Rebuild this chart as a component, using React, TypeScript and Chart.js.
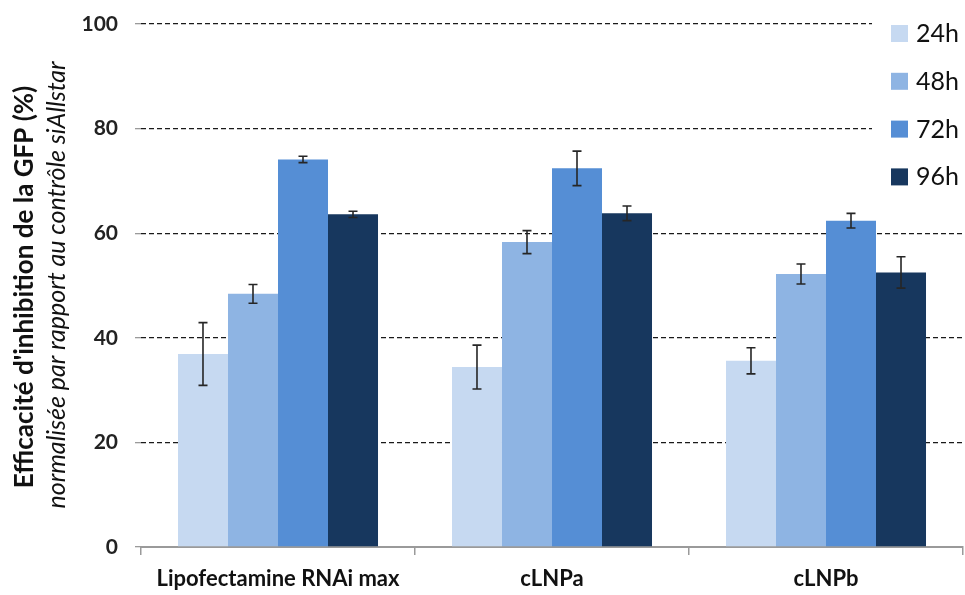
import React, { useEffect, useRef } from 'react';
import { Chart, registerables } from 'chart.js';
Chart.register(...registerables);

const categories = ['Lipofectamine RNAi max', 'cLNPa', 'cLNPb'];
const seriesLabels = ['24h', '48h', '72h', '96h'];
const values24 = [36.9, 34.4, 35.6];
const values48 = [48.4, 58.3, 52.2];
const values72 = [74.1, 72.4, 62.4];
const values96 = [63.6, 63.8, 52.5];
const err24 = [6.0, 4.2, 2.5];
const err48 = [1.8, 2.2, 1.9];
const err72 = [0.6, 3.3, 1.4];
const err96 = [0.6, 1.4, 3.0];
const yTicks = [0, 20, 40, 60, 80, 100];

const colors = ['#C6D9F1', '#8EB4E3', '#558ED5', '#17375E'];
const allValues = [values24, values48, values72, values96];
const allErrors = [err24, err48, err72, err96];

const FONT = 'Lato, "Open Sans", sans-serif';

export default function App() {
  const ref = useRef<HTMLCanvasElement>(null);

  useEffect(() => {
    if (!ref.current) return;

    const errorBars = {
      id: 'errorBars',
      afterDatasetsDraw(chart: any) {
        const ctx = chart.ctx;
        const y = chart.scales.y;
        ctx.save();
        ctx.strokeStyle = '#262626';
        ctx.lineWidth = 1.6;
        chart.data.datasets.forEach((ds: any, di: number) => {
          const meta = chart.getDatasetMeta(di);
          meta.data.forEach((bar: any, i: number) => {
            const v = ds.data[i];
            const e = allErrors[di][i];
            const x = bar.x;
            const yt = y.getPixelForValue(v + e);
            const yb = y.getPixelForValue(v - e);
            ctx.beginPath();
            ctx.moveTo(x, yt);
            ctx.lineTo(x, yb);
            ctx.moveTo(x - 4.5, yt);
            ctx.lineTo(x + 4.5, yt);
            ctx.moveTo(x - 4.5, yb);
            ctx.lineTo(x + 4.5, yb);
            ctx.stroke();
          });
        });
        ctx.restore();
      },
    };

    const legendBox = {
      id: 'legendBox',
      afterDatasetsDraw(chart: any) {
        const ctx = chart.ctx;
        ctx.save();
        ctx.fillStyle = '#ffffff';
        ctx.fillRect(872, 0, 93, 198);
        chart.data.datasets.forEach((ds: any, i: number) => {
          const cy = 33 + i * 47.8;
          ctx.fillStyle = ds.backgroundColor;
          ctx.fillRect(891, cy - 8, 17, 17);
          ctx.fillStyle = '#111111';
          ctx.font = `25px ${FONT}`;
          ctx.textBaseline = 'middle';
          ctx.textAlign = 'left';
          ctx.fillText(ds.label, 916, cy + 1);
        });
        ctx.restore();
      },
    };

    const yTitle = {
      id: 'yTitle',
      afterDraw(chart: any) {
        const ctx = chart.ctx;
        ctx.save();
        ctx.fillStyle = '#111111';
        ctx.textAlign = 'center';
        ctx.textBaseline = 'alphabetic';
        ctx.translate(33, 287);
        ctx.rotate(-Math.PI / 2);
        ctx.font = `bold 26px ${FONT}`;
        ctx.fillText("Efficacité d'inhibition de la GFP (%)", 0, 0);
        ctx.restore();
        ctx.save();
        ctx.fillStyle = '#111111';
        ctx.textAlign = 'center';
        ctx.textBaseline = 'alphabetic';
        ctx.translate(65, 285);
        ctx.rotate(-Math.PI / 2);
        ctx.font = `italic 25px ${FONT}`;
        ctx.fillText('normalisée par rapport au contrôle siAllstar', 0, 0);
        ctx.restore();
      },
    };

    const chart = new Chart(ref.current, {
      type: 'bar',
      data: {
        labels: categories,
        datasets: seriesLabels.map((label, i) => ({
          label,
          data: allValues[i],
          backgroundColor: colors[i],
          borderWidth: 0,
          categoryPercentage: 0.73,
          barPercentage: 1.0,
        })),
      },
      options: {
        responsive: false,
        animation: false,
        layout: { padding: { left: 0, right: 2, top: 24, bottom: 0 } },
        plugins: {
          legend: { display: false },
          tooltip: { enabled: false },
          title: { display: false },
        },
        scales: {
          x: {
            grid: {
              display: true,
              drawOnChartArea: false,
              drawTicks: true,
              tickLength: 8,
              color: '#9a9a9a',
              lineWidth: 1.5,
              offset: true,
            },
            border: { display: true, color: '#9a9a9a', width: 2 },
            ticks: {
              font: { family: FONT, weight: 'bold', size: 22 },
              color: '#111111',
              padding: 11,
            },
            afterFit(s: any) {
              s.height = 48;
              s.paddingLeft = 0;
              s.paddingRight = 0;
            },
          },
          y: {
            min: 0,
            max: 100,
            afterBuildTicks(s: any) {
              s.ticks = yTicks.map((v) => ({ value: v }));
            },
            grid: {
              color: (c: any) => (c.tick && c.tick.value === 0 ? 'rgba(0,0,0,0)' : '#1a1a1a'),
              lineWidth: 1.3,
              drawTicks: true,
              tickLength: 6,
              tickColor: '#9a9a9a',
              tickBorderDash: [],
            },
            border: { display: false, dash: [5, 3] },
            ticks: {
              font: { family: FONT, weight: 'bold', size: 21 },
              color: '#222222',
              padding: 17,
            },
            afterFit(s: any) {
              s.width = 141;
              s.paddingTop = 0;
              s.paddingBottom = 0;
            },
          },
        },
      },
      plugins: [errorBars, legendBox, yTitle],
    });

    return () => chart.destroy();
  }, []);

  return (
    <div style={{ position: 'fixed', left: 0, top: 0, width: 965, height: 595, background: '#fff' }}>
      <canvas ref={ref} width={965} height={595} style={{ display: 'block' }} />
    </div>
  );
}
